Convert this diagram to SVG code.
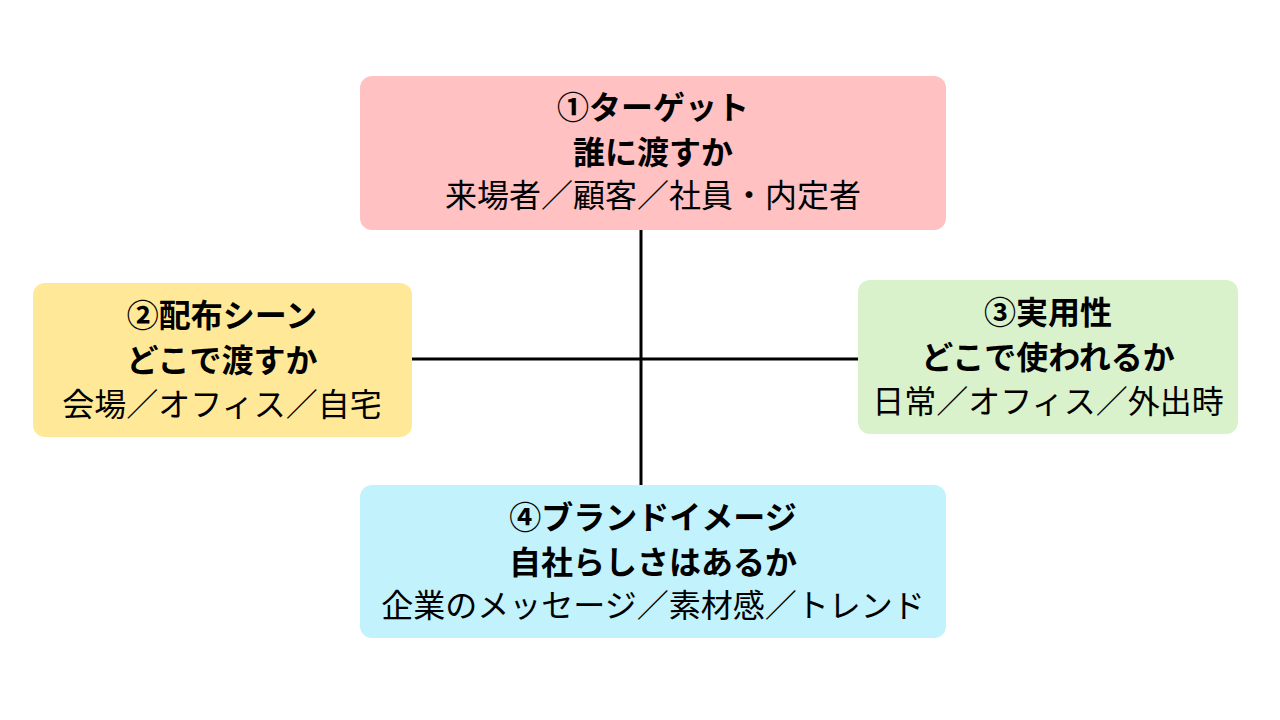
<svg xmlns="http://www.w3.org/2000/svg" width="1280" height="720" viewBox="0 0 1280 720">
<style>
text{font-family:"Noto Sans CJK JP","Noto Sans",sans-serif;font-size:32px;text-anchor:middle;fill:#000}
.b{font-weight:bold}
.box{stroke:none}
</style>
<rect width="1280" height="720" fill="#fff"/>
<g id="connectors" stroke="#000" stroke-width="3">
<line x1="641" y1="230" x2="641" y2="485"/>
<line x1="412" y1="359" x2="858" y2="359"/>
</g>
<g id="n1"><rect class="box" x="360" y="76" width="586" height="154" rx="12" fill="#FFC1C1"/>
<text class="b" x="653" y="119">①ターゲット</text><text class="b" x="653" y="164">誰に渡すか</text><text x="653" y="207">来場者／顧客／社員・内定者</text></g>
<g id="n2"><rect class="box" x="33" y="283" width="379" height="154" rx="12" fill="#FFE999"/>
<text class="b" x="222" y="327">②配布シーン</text><text class="b" x="222" y="372">どこで渡すか</text><text x="222" y="416">会場／オフィス／自宅</text></g>
<g id="n3"><rect class="box" x="858" y="280" width="380" height="154" rx="12" fill="#D9F2CC"/>
<text class="b" x="1048" y="324">③実用性</text><text class="b" x="1048" y="369">どこで使われるか</text><text x="1048" y="413">日常／オフィス／外出時</text></g>
<g id="n4"><rect class="box" x="360" y="485" width="586" height="153" rx="12" fill="#C2F2FC"/>
<text class="b" x="653" y="529">④ブランドイメージ</text><text class="b" x="653" y="574">自社らしさはあるか</text><text x="653" y="617">企業のメッセージ／素材感／トレンド</text></g>
</svg>
